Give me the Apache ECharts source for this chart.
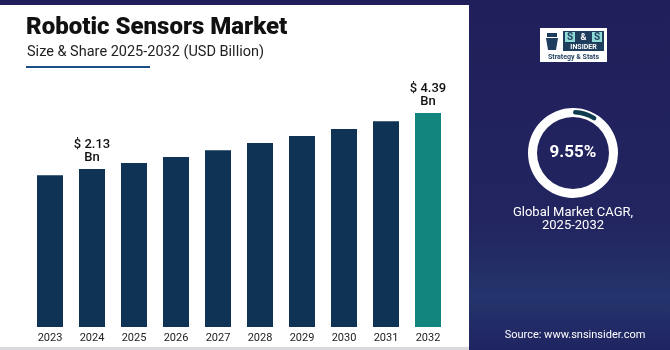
<!DOCTYPE html>
<html>
<head>
<meta charset="utf-8">
<script src="https://cdn.jsdelivr.net/npm/echarts@6/dist/echarts.min.js"></script>
<style>
  html, body { margin: 0; padding: 0; background: #201f5b; }
  #chart { width: 670px; height: 350px; }
</style>
</head>
<body>
<div id="chart"></div>
<script>
const years  = ['2023', '2024', '2025', '2026', '2027', '2028', '2029', '2030', '2031', '2032']
const market = [1.88, 2.13, 2.37, 2.61, 2.89, 3.18, 3.46, 3.74, 4.06, 4.39]
const labelled = ['2024', '2032']
const cagr = 9.55

const NAVY = '#0f3354', TEAL = '#13857f', FONT = 'Roboto'

const chart = echarts.init(document.getElementById('chart'), null, { renderer: 'canvas' })

const barData = market.map((v, i) => ({
  value: v,
  itemStyle: { color: years[i] === '2032' ? TEAL : NAVY },
  label: labelled.includes(years[i])
    ? { show: true, position: 'top', distance: 5, formatter: '$ {c}\nBn', color: '#111',
        fontFamily: FONT, fontSize: 13, fontWeight: 500, lineHeight: 13 }
    : { show: false },
}))

chart.setOption({
  backgroundColor: '#201f5b',
  animation: false,
  graphic: [
    // right panel gradient
    { type: 'rect', shape: { x: 469, y: 0, width: 201, height: 350 }, z: -10,
      style: { fill: { type: 'linear', x: 0, y: 0, x2: 0, y2: 1,
        colorStops: [{ offset: 0, color: '#201f5b' }, { offset: 0.65, color: '#222560' }, { offset: 0.85, color: '#24346c' }, { offset: 1, color: '#1f2460' }] } } },
    // white panel
    { type: 'rect', shape: { x: 0, y: 5, width: 469, height: 342 }, z: -9, style: { fill: '#ffffff' } },
    { type: 'rect', shape: { x: 0, y: 347, width: 469, height: 3 }, z: -9, style: { fill: '#d9d9de' } },
    { type: 'text', left: 26, top: 16, style: { text: 'Robotic Sensors Market', fill: '#111', font: `900 24px ${FONT}` } },
    { type: 'text', left: 27, top: 45, style: { text: 'Size & Share 2025-2032 (USD Billion)', fill: '#222', font: `14.5px ${FONT}` } },
    { type: 'rect', shape: { x: 26, y: 66, width: 124, height: 2 }, style: { fill: '#1b4f8a' } },
    // logo
    { type: 'rect', shape: { x: 540, y: 28, width: 67, height: 34 }, style: { fill: '#ffffff' } },
    { type: 'polygon', shape: { points: [[546, 38], [558, 38], [556, 50], [548, 50]] }, style: { fill: '#1f3d5c' } },
    { type: 'rect', shape: { x: 547, y: 33, width: 10, height: 4 }, style: { fill: '#1f3d5c' } },
    { type: 'rect', shape: { x: 563, y: 31, width: 41, height: 20 }, style: { fill: '#1f3d5c' } },
    { type: 'rect', shape: { x: 565, y: 32, width: 10, height: 10 }, style: { fill: '#8fdad6' } },
    { type: 'rect', shape: { x: 592, y: 32, width: 10, height: 10 }, style: { fill: '#8fdad6' } },
    { type: 'text', x: 570, y: 37.5, style: { text: 'S', fill: '#1f3d5c', font: `bold 10px ${FONT}`, align: 'center', verticalAlign: 'middle' } },
    { type: 'text', x: 583.5, y: 37.5, style: { text: '&', fill: '#ffffff', font: `bold 9px ${FONT}`, align: 'center', verticalAlign: 'middle' } },
    { type: 'text', x: 597, y: 37.5, style: { text: 'S', fill: '#1f3d5c', font: `bold 10px ${FONT}`, align: 'center', verticalAlign: 'middle' } },
    { type: 'text', x: 583.5, y: 47, style: { text: 'INSIDER', fill: '#fff', font: `bold 7px ${FONT}`, align: 'center', verticalAlign: 'middle' } },
    { type: 'text', x: 573.5, y: 57, style: { text: 'Strategy & Stats', fill: '#1f3d5c', font: `bold 7px ${FONT}`, align: 'center', verticalAlign: 'middle' } },
    // CAGR text
    { type: 'text', x: 573, y: 153, style: { text: cagr.toFixed(2) + '%', fill: '#fff', font: `bold 17px ${FONT}`, align: 'center', verticalAlign: 'middle' } },
    { type: 'text', x: 573, y: 213, style: { text: 'Global Market CAGR,', fill: '#fff', font: `13px ${FONT}`, align: 'center', verticalAlign: 'middle' } },
    { type: 'text', x: 573, y: 226, style: { text: '2025-2032', fill: '#fff', font: `13px ${FONT}`, align: 'center', verticalAlign: 'middle' } },
    { type: 'text', x: 575, y: 335, style: { text: 'Source: www.snsinsider.com', fill: '#fff', font: `11px ${FONT}`, align: 'center', verticalAlign: 'middle' } },
  ],
  grid: { left: 29, width: 420, top: 85, bottom: 23 },
  xAxis: {
    type: 'category', data: years,
    axisLine: { show: false }, axisTick: { show: false },
    axisLabel: { color: '#222', fontFamily: FONT, fontSize: 11, margin: 6 },
  },
  yAxis: { type: 'value', min: -4.25, max: 5.52, startValue: -4.25, show: false, splitLine: { show: false } },
  series: [
    { type: 'bar', data: barData, barWidth: 26 },
    { type: 'pie', center: [573, 153], radius: [36, 45], silent: true, label: { show: false },
      data: [{ value: 100, itemStyle: { color: '#ffffff' } }] },
    { type: 'pie', center: [573, 153], radius: [38.5, 43], startAngle: 90, clockwise: true, silent: true,
      label: { show: false }, z: 3,
      data: [{ value: cagr, itemStyle: { color: '#0f3b4f', borderRadius: 3 } },
             { value: 100 - cagr, itemStyle: { color: 'rgba(0,0,0,0)' } }] },
  ],
})
</script>
</body>
</html>
